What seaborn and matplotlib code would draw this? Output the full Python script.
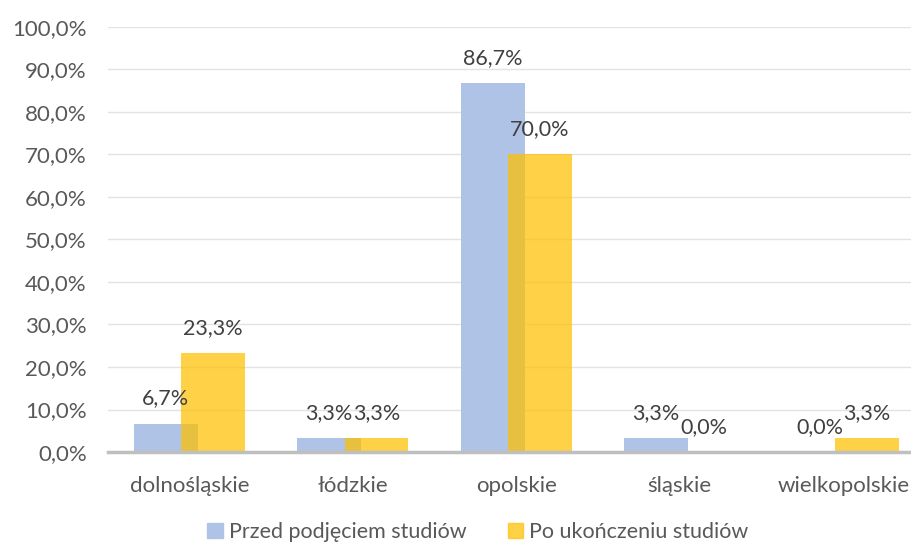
import pandas as pd
import matplotlib
matplotlib.use("Agg")
import matplotlib.pyplot as plt
import seaborn as sns

# data
regions = ["dolnośląskie", "łódzkie", "opolskie", "śląskie", "wielkopolskie"]
before = [6.7, 3.3, 86.7, 3.3, 0.0]
after = [23.3, 3.3, 70.0, 0.0, 3.3]
series = ["Przed podjęciem studiów", "Po ukończeniu studiów"]
y_ticks = [0, 10, 20, 30, 40, 50, 60, 70, 80, 90, 100]

data = pd.DataFrame({
    "Region": regions * 2,
    "Value": before + after,
    "Series": [series[0]] * len(regions) + [series[1]] * len(regions),
})

sns.set_style("white")
plt.rcParams["font.family"] = ["Lato", "DejaVu Sans"]

text_color = "#595959"
blue = "#AFC3E7"
yellow = "#FFC000"

fig = plt.figure(figsize=(9.12, 5.45), dpi=100)
ax = fig.add_axes([0.118, 0.1706, 0.882, 0.78])

sns.barplot(data=data, x="Region", y="Value", hue="Series",
            palette=[blue, yellow], saturation=1, errorbar=None,
            dodge=True, width=0.78, linewidth=0, ax=ax, legend=False)

# pull the two bars of each group together so they overlap
for patch in ax.containers[0]:
    patch.set_x(patch.get_x() + 0.05)
for patch in ax.containers[1]:
    patch.set_x(patch.get_x() - 0.05)
    patch.set_alpha(0.72)

for cont in ax.containers:
    ax.bar_label(cont, labels=[f"{v:.1f}%".replace(".", ",") for v in cont.datavalues],
                 padding=11, fontsize=15.5, color="#404040")

ax.set_xlim(-0.5, 4.42)
ax.set_ylim(0, 100)
ax.set_yticks(y_ticks)
ax.set_yticklabels([f"{t:.1f}%".replace(".", ",") for t in y_ticks])
ax.yaxis.grid(True, color="#E3E3E3", linewidth=1)
ax.set_axisbelow(True)
for side in ["top", "right", "left"]:
    ax.spines[side].set_visible(False)
ax.spines["bottom"].set_color("#BFBFBF")
ax.spines["bottom"].set_linewidth(2.5)
ax.tick_params(axis="y", length=0, pad=15, labelsize=16, labelcolor=text_color)
ax.tick_params(axis="x", length=0, pad=17, labelsize=16, labelcolor=text_color)
ax.set_xlabel("")
ax.set_ylabel("")

handles = [plt.Rectangle((0, 0), 1, 1, color=blue),
           plt.Rectangle((0, 0), 1, 1, color=yellow, alpha=0.72)]
fig.legend(handles, series, loc="center", bbox_to_anchor=(0.524, 0.024),
           ncol=2, frameon=False, fontsize=15.5, labelcolor=text_color,
           handlelength=0.7, handleheight=0.7, handletextpad=0.3,
           columnspacing=1.9)

fig.savefig("out.png", dpi=100)
